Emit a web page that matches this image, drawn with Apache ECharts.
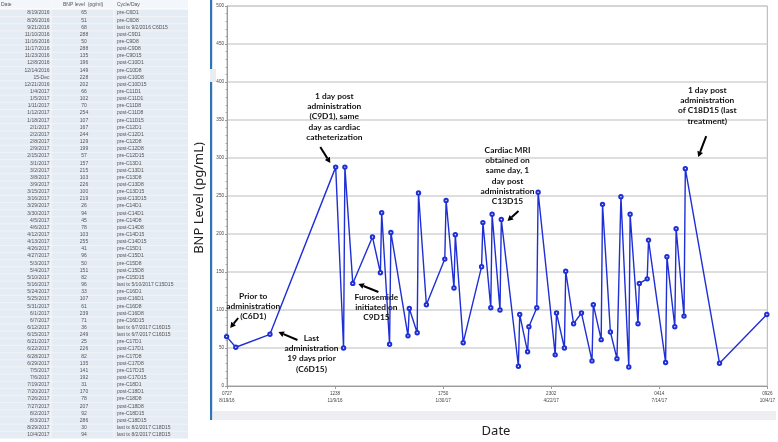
<!DOCTYPE html>
<html><head><meta charset="utf-8">
<script src="https://cdn.jsdelivr.net/npm/echarts@6/dist/echarts.min.js"></script>
<style>html,body{margin:0;padding:0;background:#fff}#c{width:778px;height:442px}</style>
</head><body><div id="c"></div>
<script>
// ---------- table (as printed on the left) ----------
const tableHeader = ['Date', 'BNP level  (pg/ml)', 'Cycle/Day'];
const tableDates = ['8/19/2016','8/26/2016','9/21/2016','11/10/2016','11/16/2016','11/17/2016','11/23/2016','12/8/2016','12/14/2016','15-Dec','12/21/2016','1/4/2017','1/5/2017','1/11/2017','1/12/2017','1/18/2017','2/1/2017','2/2/2017','2/8/2017','2/9/2017','2/15/2017','3/1/2017','3/2/2017','3/8/2017','3/9/2017','3/15/2017','3/16/2017','3/29/2017','3/30/2017','4/5/2017','4/6/2017','4/12/2017','4/13/2017','4/26/2017','4/27/2017','5/3/2017','5/4/2017','5/10/2017','5/16/2017','5/24/2017','5/25/2017','5/31/2017','6/1/2017','6/7/2017','6/12/2017','6/15/2017','6/21/2017','6/22/2017','6/28/2017','6/29/2017','7/5/2017','7/6/2017','7/19/2017','7/20/2017','7/26/2017','7/27/2017','8/2/2017','8/3/2017','8/29/2017','10/4/2017'];
const tableBnp = [65,51,68,288,50,288,135,196,149,228,202,66,102,70,254,107,167,244,129,199,57,157,215,103,226,100,219,26,94,45,78,103,255,41,96,50,151,82,96,33,107,61,239,71,36,249,25,226,82,135,141,192,31,170,78,207,92,286,30,94];
const tableCycles = ['pre-C6D1','pre-C6D8','last tx 9/2/2016 C6D15','post-C9D1','pre-C9D8','post-C9D8','pre-C9D15','post-C10D1','pre-C10D8','post-C10D8','post-C10D15','pre-C11D1','post-C11D1','pre-C11D8','post-C11D8','pre-C11D15','pre-C12D1','post-C12D1','pre-C12D8','post-C12D8','pre-C12D15','pre-C13D1','post-C13D1','pre-C13D8','post-C13D8','pre-C13D15','post-C13D15','pre-C14D1','post-C14D1','pre-C14D8','post-C14D8','pre-C14D15','post-C14D15','pre-C15D1','post-C15D1','pre-C15D8','post-C15D8','pre-C15D15','last tx 5/10/2017 C15D15','pre-C16D1','post-C16D1','pre-C16D8','post-C16D8','pre-C16D15','last tx 6/7/2017 C16D15','last tx 6/7/2017 C16D15','pre-C17D1','post-C17D1','pre-C17D8','post-C17D8','pre-C17D15','post-C17D15','pre-C18D1','post-C18D1','pre-C18D8','post-C18D8','pre-C18D15','post-C18D15','last tx 8/2/2017 C18D15','last tx 8/2/2017 C18D15'];

// ---------- plotted series (as drawn in the chart) ----------
const seriesDates = ['2016-08-19','2016-08-26','2016-09-21','2016-11-10','2016-11-16','2016-11-17','2016-11-23','2016-12-08','2016-12-14','2016-12-15','2016-12-21','2016-12-22','2017-01-04','2017-01-05','2017-01-11','2017-01-12','2017-01-18','2017-02-01','2017-02-02','2017-02-08','2017-02-09','2017-02-15','2017-03-01','2017-03-02','2017-03-08','2017-03-09','2017-03-15','2017-03-16','2017-03-29','2017-03-30','2017-04-05','2017-04-06','2017-04-12','2017-04-13','2017-04-26','2017-04-27','2017-05-03','2017-05-04','2017-05-10','2017-05-16','2017-05-24','2017-05-25','2017-05-31','2017-06-01','2017-06-07','2017-06-12','2017-06-15','2017-06-21','2017-06-22','2017-06-28','2017-06-29','2017-07-05','2017-07-06','2017-07-19','2017-07-20','2017-07-26','2017-07-27','2017-08-02','2017-08-03','2017-08-29','2017-10-04'];
const seriesBnp = [65,51,68,288,50,288,135,196,149,228,55,202,66,102,70,254,107,167,244,129,199,57,157,215,103,226,100,219,26,94,45,78,103,255,41,96,50,151,82,96,33,107,61,239,71,36,249,25,226,82,135,141,192,31,170,78,207,92,286,30,94];

// ---------- axes ----------
const axisStartUTC = [2016, 7, 19, 7, 27, 3];   // first x tick: 07:27, 8/19/16
const axisStepMinutes = 118391.9;               // distance between x ticks
const axisSteps = 5;
const yMin = 0, yMax = 500, yStep = 50;
const xTitle = 'Date';
const yTitle = 'BNP Level (pg/mL)';

// ---------- annotations (text, target point index in series) ----------
const notes = [
  {idx:0,  text:'Prior to\nadministration\n(C6D1)'},
  {idx:2,  text:'Last\nadministration\n19 days prior\n(C6D15)'},
  {idx:3,  text:'1 day post\nadministration\n(C9D1), same\nday as cardiac\ncatheterization'},
  {idx:6,  text:'Furosemide\ninitiated on\nC9D15'},
  {idx:27, text:'Cardiac MRI\nobtained on\nsame day, 1\nday post\nadministration\nC13D15'},
  {idx:58, text:'1 day post\nadministration\nof C18D15 (last\ntreatment)'}
];
// layout offsets (pixels, relative to the target point): text centre / first line, arrow start, arrow tip
const noteLayout = [
  {tx:26.6, ty:-40.6, a:[11.6,-18.6], b:[3.6,-8.6]},
  {tx:41.5, ty:3.7,  a:[27.5,5.7],  b:[8.5,-2.3]},
  {tx:-1.4, ty:-71.1, a:[-15.4,-20.1], b:[-5.4,-4.1]},
  {tx:23.6, ty:13.6, a:[25.6,8.6],  b:[5.6,0.6]},
  {tx:6.2,  ty:-69.6, a:[17.2,-8.6], b:[6.2,1.4]},
  {tx:21.9, ty:-78.6, a:[20.9,-32.6], b:[12.9,-11.6]}
];

const t0 = Date.UTC.apply(null, axisStartUTC);
const toX = s => { const p = s.split('-').map(Number); return (Date.UTC(p[0], p[1]-1, p[2]) - t0) / 60000; };
const pad2 = n => String(n).padStart(2, '0');
function xLabel(v) {
  const d = new Date(t0 + v * 60000);
  return pad2(d.getUTCHours()) + pad2(d.getUTCMinutes()) + '\n' +
    (d.getUTCMonth() + 1) + '/' + d.getUTCDate() + '/' + String(d.getUTCFullYear()).slice(2);
}

const chart = echarts.init(document.getElementById('c'));
const xMax = Math.round(axisStepMinutes * axisSteps * 10) / 10;
const lineBlue = '#1f2fd6';

chart.setOption({
  animation: false,
  grid: {left: 227, right: 4, top: 6, bottom: 56, show: true, borderColor: '#b4b4b4', borderWidth: 1},
  xAxis: {
    type: 'value', min: 0, max: xMax, interval: axisStepMinutes,
    splitLine: {show: false},
    axisLine: {lineStyle: {color: '#9a9a9a'}},
    axisTick: {length: 3, lineStyle: {color: '#9a9a9a'}},
    axisLabel: {formatter: xLabel, fontSize: 4.6, lineHeight: 7, color: '#444', margin: 4,
      fontFamily: 'Liberation Sans', showMinLabel: true, showMaxLabel: true, hideOverlap: false}
  },
  yAxis: {
    type: 'value', min: yMin, max: yMax, interval: yStep,
    axisLine: {show: true, lineStyle: {color: '#9a9a9a'}},
    axisTick: {show: true, length: 2, lineStyle: {color: '#9a9a9a'}},
    minorTick: {show: true, splitNumber: 5, length: 1.5, lineStyle: {color: '#aaa'}},
    splitLine: {lineStyle: {color: '#d3d3d3', width: 1.6}},
    axisLabel: {fontSize: 4.6, color: '#444', margin: 3, fontFamily: 'Liberation Sans'}
  },
  series: [{
    type: 'line', clip: false,
    data: seriesDates.map((d, i) => [toX(d), seriesBnp[i]]),
    symbol: 'emptyCircle', symbolSize: 3.4,
    lineStyle: {color: lineBlue, width: 1.4},
    itemStyle: {color: lineBlue, borderColor: lineBlue, borderWidth: 1}
  }]
});

// ---------- decorations, table, titles, annotations ----------
const G = [];
const tFont = '5px "Liberation Sans"';
const rowTop = 9.4, rowPitch = 7.15;
G.push({type: 'rect', shape: {x: 0, y: 0, width: 188, height: 8.6}, style: {fill: '#f3f6fa'}, silent: true});
G.push({type: 'rect', shape: {x: 0, y: rowTop, width: 188, height: rowPitch * tableDates.length}, style: {fill: '#e6ecf4'}, silent: true});
for (let k = 1; k < tableDates.length; k++) {
  const y = rowTop + rowPitch * k;
  G.push({type: 'line', shape: {x1: 0, y1: y, x2: 188, y2: y}, style: {stroke: '#f6f8fb', lineWidth: 0.6}, silent: true});
}
[51, 114].forEach(x => G.push({type: 'line', shape: {x1: x, y1: 0, x2: x, y2: rowTop + rowPitch * tableDates.length}, style: {stroke: '#f6f8fb', lineWidth: 1}, silent: true}));
G.push({type: 'text', x: 1, y: 4.3, style: {text: tableHeader[0], font: tFont, fill: '#555', align: 'left', verticalAlign: 'middle'}});
G.push({type: 'text', x: 63, y: 4.3, style: {text: tableHeader[1], font: tFont, fill: '#555', align: 'left', verticalAlign: 'middle'}});
G.push({type: 'text', x: 117, y: 4.3, style: {text: tableHeader[2], font: tFont, fill: '#555', align: 'left', verticalAlign: 'middle'}});
tableDates.forEach((d, i) => {
  const y = rowTop + rowPitch * (i + 0.5);
  G.push({type: 'text', x: 49.5, y, style: {text: d, font: tFont, fill: '#555', align: 'right', verticalAlign: 'middle'}});
  G.push({type: 'text', x: 84, y, style: {text: String(tableBnp[i]), font: tFont, fill: '#555', align: 'center', verticalAlign: 'middle'}});
  G.push({type: 'text', x: 117, y, style: {text: tableCycles[i], font: tFont, fill: '#555', align: 'left', verticalAlign: 'middle'}});
});

// blue side bar and grey strip
G.push({type: 'rect', shape: {x: 210, y: 0, width: 2.2, height: 69}, style: {fill: '#2e75b6'}, silent: true});
G.push({type: 'rect', shape: {x: 210, y: 69, width: 6, height: 13}, style: {fill: '#e9edf1'}, silent: true});
G.push({type: 'rect', shape: {x: 210, y: 82, width: 2.2, height: 338}, style: {fill: '#2e75b6'}, silent: true});
G.push({type: 'rect', shape: {x: 213, y: 411, width: 563, height: 9}, style: {fill: '#eceef1'}, silent: true});

// axis titles
G.push({type: 'text', x: 496, y: 431, style: {text: xTitle, font: '13px "Noto Sans"', fill: '#222', align: 'center', verticalAlign: 'middle'}});
G.push({type: 'text', x: 199, y: 198, rotation: Math.PI / 2, style: {text: yTitle, font: '13px "Noto Sans"', fill: '#222', align: 'center', verticalAlign: 'middle'}});

// annotations anchored on their data points
notes.forEach((n, i) => {
  const L = noteLayout[i];
  const p = chart.convertToPixel({gridIndex: 0}, [toX(seriesDates[n.idx]), seriesBnp[n.idx]]);
  G.push({type: 'text', z: 100, x: p[0] + L.tx, y: p[1] + L.ty - 5.15,
    style: {text: n.text, font: 'bold 8.4px Lato', fill: '#111', align: 'center', verticalAlign: 'top', lineHeight: 10.3}});
  const ax = p[0] + L.a[0], ay = p[1] + L.a[1], bx = p[0] + L.b[0], by = p[1] + L.b[1];
  const dx = bx - ax, dy = by - ay, len = Math.hypot(dx, dy), ux = dx / len, uy = dy / len;
  const hl = 5.5, hw = 3;
  const cx = bx - ux * hl, cy = by - uy * hl;
  G.push({type: 'line', z: 100, shape: {x1: ax, y1: ay, x2: cx, y2: cy}, style: {stroke: '#000', lineWidth: 2}});
  G.push({type: 'polygon', z: 100, shape: {points: [[bx, by], [cx - uy * hw, cy + ux * hw], [cx + uy * hw, cy - ux * hw]]}, style: {fill: '#000'}});
});

chart.setOption({graphic: G});
</script></body></html>
